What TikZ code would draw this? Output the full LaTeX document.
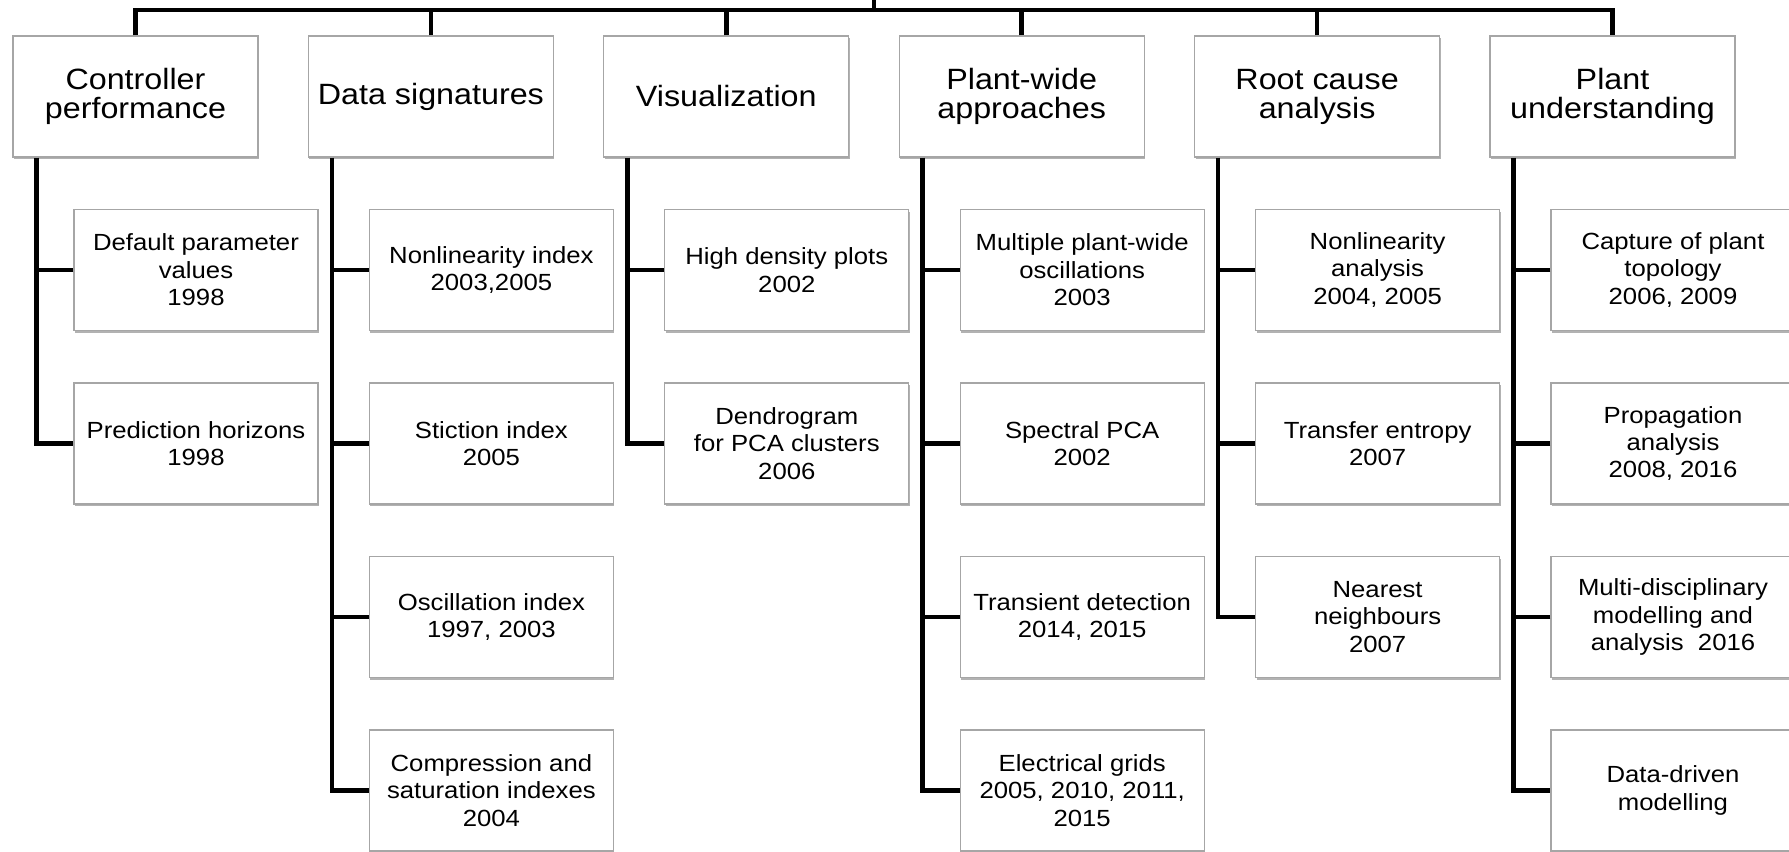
\documentclass[tikz,border=0pt]{standalone}
\usepackage{fontspec}
\setmainfont{Liberation Sans}[FakeStretch=1.1]
\usetikzlibrary{shadows}

\begin{document}
\begin{tikzpicture}[tnode/.style={draw=black!35, fill=white, line width=0.6pt, rectangle, minimum width=4.9cm, minimum height=2.42cm, inner sep=2pt, align=center, drop shadow={shadow xshift=0.6pt, shadow yshift=-1.4pt, fill=black, opacity=0.3}, font=\fontsize{16.7}{16.5}\selectfont}, lnode/.style={tnode, minimum width=4.88cm, font=\fontsize{13.3}{15.6}\selectfont}, bar/.style={line width=2.6pt}]
    \useasboundingbox (0,0) rectangle (35.78,-17.04);

    \node[tnode] (cp) at (2.71,-1.93) {Controller\\performance};
    \node[tnode] (ds) at (8.618,-1.93) {Data signatures};
    \node[tnode] (vis) at (14.526,-1.93) {Visualization};
    \node[tnode] (pw) at (20.434,-1.93) {Plant-wide\\approaches};
    \node[tnode] (rc) at (26.342,-1.93) {Root cause\\analysis};
    \node[tnode] (pu) at (32.25,-1.93) {Plant\\understanding};

    \node[lnode] (cp1) at (3.92,-5.4) {Default parameter\\values\\1998};
    \node[lnode] (cp2) at (3.92,-8.87) {Prediction horizons\\1998};

    \node[lnode] (ds1) at (9.828,-5.4) {Nonlinearity index\\2003,2005};
    \node[lnode] (ds2) at (9.828,-8.87) {Stiction index\\2005};
    \node[lnode] (ds3) at (9.828,-12.34) {Oscillation index\\1997, 2003};
    \node[lnode] (ds4) at (9.828,-15.81) {Compression and\\saturation indexes\\2004};

    \node[lnode] (vis1) at (15.736,-5.4) {High density plots\\2002};
    \node[lnode] (vis2) at (15.736,-8.87) {Dendrogram\\for PCA clusters\\2006};

    \node[lnode] (pw1) at (21.644,-5.4) {Multiple plant-wide\\oscillations\\2003};
    \node[lnode] (pw2) at (21.644,-8.87) {Spectral PCA\\2002};
    \node[lnode] (pw3) at (21.644,-12.34) {Transient detection\\2014, 2015};
    \node[lnode] (pw4) at (21.644,-15.81) {Electrical grids\\2005, 2010, 2011,\\2015};

    \node[lnode] (rc1) at (27.552,-5.4) {Nonlinearity\\analysis\\2004, 2005};
    \node[lnode] (rc2) at (27.552,-8.87) {Transfer entropy\\2007};
    \node[lnode] (rc3) at (27.552,-12.34) {Nearest\\neighbours\\2007};

    \node[lnode] (pu1) at (33.46,-5.4) {Capture of plant\\topology\\2006, 2009};
    \node[lnode] (pu2) at (33.46,-8.87) {Propagation\\analysis\\2008, 2016};
    \node[lnode] (pu3) at (33.46,-12.34) {Multi-disciplinary\\modelling and\\analysis\ \ 2016};
    \node[lnode] (pu4) at (33.46,-15.81) {Data-driven\\modelling};

    % top bar
    \coordinate (root) at (17.48,0);
    \coordinate (hub) at (17.48,-0.2);
    \draw[bar] (root) -- (hub);
    \draw[bar] (cp.north) |- (hub) -| (pu.north);
    \draw[bar] (ds.north) -- (ds.north |- hub);
    \draw[bar] (vis.north) -- (vis.north |- hub);
    \draw[bar] (pw.north) -- (pw.north |- hub);
    \draw[bar] (rc.north) -- (rc.north |- hub);

    % column bars
    \coordinate (cpbar) at ([xshift=-1.98cm]cp.south);
    \coordinate (dsbar) at ([xshift=-1.98cm]ds.south);
    \coordinate (visbar) at ([xshift=-1.98cm]vis.south);
    \coordinate (pwbar) at ([xshift=-1.98cm]pw.south);
    \coordinate (rcbar) at ([xshift=-1.98cm]rc.south);
    \coordinate (pubar) at ([xshift=-1.98cm]pu.south);

    \draw[bar] (cpbar) |- (cp2.west);
    \draw[bar] (cp1.west) -- (cp1.west -| cpbar);

    \draw[bar] (dsbar) |- (ds4.west);
    \draw[bar] (ds1.west) -- (ds1.west -| dsbar);
    \draw[bar] (ds2.west) -- (ds2.west -| dsbar);
    \draw[bar] (ds3.west) -- (ds3.west -| dsbar);

    \draw[bar] (visbar) |- (vis2.west);
    \draw[bar] (vis1.west) -- (vis1.west -| visbar);

    \draw[bar] (pwbar) |- (pw4.west);
    \draw[bar] (pw1.west) -- (pw1.west -| pwbar);
    \draw[bar] (pw2.west) -- (pw2.west -| pwbar);
    \draw[bar] (pw3.west) -- (pw3.west -| pwbar);

    \draw[bar] (rcbar) |- (rc3.west);
    \draw[bar] (rc1.west) -- (rc1.west -| rcbar);
    \draw[bar] (rc2.west) -- (rc2.west -| rcbar);

    \draw[bar] (pubar) |- (pu4.west);
    \draw[bar] (pu1.west) -- (pu1.west -| pubar);
    \draw[bar] (pu2.west) -- (pu2.west -| pubar);
    \draw[bar] (pu3.west) -- (pu3.west -| pubar);
\end{tikzpicture}
\end{document}
